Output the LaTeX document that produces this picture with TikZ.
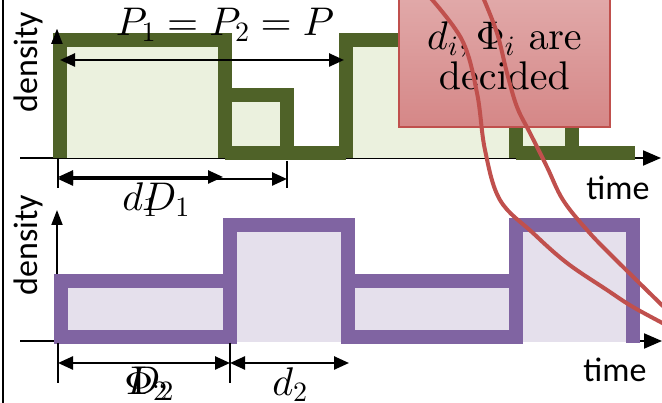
\documentclass[tikz,border=0pt]{standalone}
\usepackage[no-math]{fontspec}
\newfontfamily\calibri{Carlito}
\DeclareFontFamily{OML}{cmm}{\skewchar\font127 }
\DeclareFontShape{OML}{cmm}{m}{it}{<->cmmi10}{}
\DeclareFontShape{OT1}{cmr}{m}{n}{<->cmr10}{}
\DeclareFontShape{OMS}{cmsy}{m}{n}{<->cmsy10}{}
\usetikzlibrary{arrows.meta, positioning}
\definecolor{olive1}{RGB}{79, 98, 40}
\definecolor{olive2}{RGB}{235, 241, 222}
\definecolor{purple1}{RGB}{128, 100, 162}
\definecolor{purple2}{RGB}{229, 224, 236}
\definecolor{red1}{RGB}{192, 80, 77}
\definecolor{pink1}{RGB}{226, 172, 172}
\definecolor{pink2}{RGB}{213, 135, 135}

\begin{document}
\begin{tikzpicture}[x=1pt, y=-1pt,
  axis/.style={line width=2pt, -{Triangle[length=18pt, width=15pt]}},
  yaxis/.style={line width=2pt, -{Triangle[length=15pt, width=11pt]}},
  dim/.style={line width=2.5pt, {Triangle[length=15pt, width=13pt]}-{Triangle[length=15pt, width=13pt]}},
  dimtick/.style={line width=2pt},
  wave/.style={line width=13.5pt},
  axlabel/.style={font=\calibri\fontsize{34}{34}\selectfont, inner sep=0pt},
  mathlabel/.style={font=\fontsize{40}{40}\selectfont, inner sep=0pt, anchor=base},
  curve/.style={red1, line width=4pt}]
  \useasboundingbox (0,0) rectangle (662,403);
  \clip (0,0) rectangle (662,403);
  \draw[line width=2pt] (3,0) -- (3,403);

  % upper panel
  \coordinate (s1) at (20,158);
  \coordinate (o1) at (57,158);
  \coordinate (x1) at (661,158);
  \coordinate (y1) at (57,29);
  \draw[axis] (s1) -- (x1);
  \draw[yaxis] (o1) -- (y1);
  \node[axlabel, rotate=90] (dens1) at (28,62) {density};
  \node[axlabel, anchor=base] (time1) at (618,200) {time};
  \fill[olive2] (60,40) rectangle (225,158) (225,95) rectangle (287,153)
    (346,40) rectangle (516,158) (516,95) rectangle (572,153);
  \draw[olive1, wave] (60,158) -- (60,40) -- (225,40) -- (225,158)
    (225,95) -- (287,95) -- (287,153) (225,153) -- (346,153)
    (346,158) -- (346,40) -- (516,40) -- (516,158)
    (516,95) -- (572,95) -- (572,153) (516,153) -- (635,153);
  \draw[yaxis] ([yshift=-14pt]y1) -- (y1);

  % lower panel
  \coordinate (s2) at (20,341);
  \coordinate (o2) at (57,341);
  \coordinate (x2) at (662,341);
  \coordinate (y2) at (57,210);
  \draw[axis] (s2) -- (x2);
  \draw[yaxis] (o2) -- (y2);
  \node[axlabel, rotate=90] (dens2) at (28,245) {density};
  \node[axlabel, anchor=base] (time2) at (615,382) {time};
  \fill[purple2] (61,281) rectangle (230,337) (230,225) rectangle (348,342)
    (348,281) rectangle (516,337) (516,225) rectangle (633,342);
  \draw[purple1, wave] (61,281) rectangle (230,337)
    (230,343) -- (230,225) -- (348,225) -- (348,343)
    (348,281) rectangle (516,337)
    (516,343) -- (516,225) -- (633,225) -- (633,343);

  % periods and durations
  \coordinate (pa) at (60,60);
  \coordinate (pb) at (344,60);
  \draw[dim] (pa) -- (pb);
  \node[mathlabel] (per) at (225,36) {$P_1 = P_2 = P$};

  \coordinate (d1a) at (58,177);
  \coordinate (d1b) at (223,177);
  \coordinate (D1a) at (58,179);
  \coordinate (D1b) at (287,179);
  \draw[dimtick] ([yshift=18pt]d1a) -- ([yshift=-11pt]d1a);
  \draw[dimtick] ([yshift=18pt]D1b) -- ([yshift=-9pt]D1b);
  \draw[dim] (d1a) -- (d1b);
  \draw[dim] (D1a) -- (D1b);
  \node[mathlabel] (d1) at (140,211) {$d_1$};
  \node[mathlabel] (D1) at (166,211) {$D_1$};

  \coordinate (d2a) at (58,363);
  \coordinate (d2b) at (230,363);
  \coordinate (d2c) at (349,363);
  \draw[dimtick] ([yshift=20pt]d2a) -- ([yshift=-20pt]d2a);
  \draw[dimtick] ([yshift=20pt]d2b) -- ([yshift=-20pt]d2b);
  \draw[dim] (d2a) -- (d2b);
  \draw[dim] (d2b) -- (d2c);
  \node[mathlabel] (phi2) at (146,395) {$\Phi_2$};
  \node[mathlabel] (D2) at (150,395) {$D_2$};
  \node[mathlabel] (d2) at (290,396) {$d_2$};

  % decision box
  \node[draw=red1, line width=2.5pt, top color=pink1, bottom color=pink2,
    minimum width=211pt, minimum height=142pt, inner sep=0pt, align=center,
    font=\fontencoding{OT1}\fontfamily{cmr}\fontsize{40}{40}\selectfont] (decided)
    at (504.5,56) {$d_i, \Phi_i$ are\\decided};
  \draw[curve] plot[smooth, tension=0.6] coordinates {(428,-5) (462,40) (477,93) (485,150)
    (500,200) (533,233) (567,263) (607,290) (633,307) (670,327)};
  \draw[curve] plot[smooth, tension=0.6] coordinates {(482,-5) (497,33) (507,73) (517,107)
    (530,133) (547,167) (563,200) (587,230) (613,257) (670,313)};
\end{tikzpicture}
\end{document}
